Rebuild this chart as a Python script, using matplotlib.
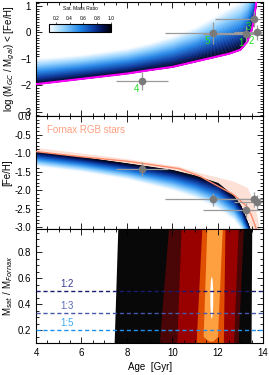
import numpy as np
import matplotlib
matplotlib.use("Agg")
import matplotlib.pyplot as plt
from matplotlib.colors import LinearSegmentedColormap, Normalize
from matplotlib.ticker import MultipleLocator
from matplotlib.patches import Ellipse
import matplotlib.colorbar as mcolorbar

plt.rcParams["font.family"] = ["Liberation Sans", "DejaVu Sans"]

# ---- top panel: GC-to-galaxy mass limit band
age_top = [4, 6, 8, 9, 10, 11, 12, 12.5, 13, 13.3, 13.5, 13.6, 13.7, 13.8]
lim_low = [-1.95, -1.75, -1.55, -1.42, -1.3, -1.1, -0.9, -0.8, -0.65, -0.35, 0.1, 0.5, 1.15, 1.6]
lim_up = [-0.97, -0.82, -0.58, -0.38, -0.12, 0.22, 0.7, 0.95, 1.2, 1.5, 1.8, 2.0, 2.2, 2.4]

# ---- middle panel: age-metallicity band + Fornax RGB stars
age_mid = [4, 6, 8, 10, 11, 12, 12.7, 13.0, 13.3, 13.45, 13.6]
feh_dark = [-0.95, -1.1, -1.27, -1.45, -1.6, -1.8, -2.15, -2.4, -2.85, -3.1, -3.5]
feh_light = [-1.35, -1.5, -1.7, -2.0, -2.2, -2.5, -2.8, -3.05, -3.4, -3.7, -4.0]

age_rgb = [4, 6, 8, 10.3, 11.2, 12.7, 13.3, 13.5, 13.7, 13.85]
rgb_up = [-0.85, -1.0, -1.15, -1.36, -1.53, -1.76, -1.93, -2.2, -2.6, -3.1]
rgb_mid = [-0.96, -1.1, -1.22, -1.42, -1.62, -2.12, -2.45, -2.7, -3.05, -3.3]
rgb_low = [-1.05, -1.2, -1.35, -1.55, -1.72, -2.25, -2.8, -3.1, -3.3, -3.4]

# ---- Fornax globular clusters
gc_id = ["1", "2", "3", "4", "5"]
gc_age = [13.25, 13.72, 13.6, 8.65, 11.8]
gc_age_err = [1.9, 1.0, 1.7, 1.15, 2.1]
gc_logm = [-0.07, 0.0, 0.51, -1.83, -0.03]
gc_logm_err = [0.3, 0.3, 0.3, 0.35, 0.42]
gc_feh = [-2.54, -2.33, -2.25, -1.43, -2.25]
gc_feh_err = [0.2, 0.2, 0.2, 0.2, 0.18]

# ---- bottom panel: likelihood contours (edges at ratio_edges)
ratio_edges = [0.1, 0.98]
cont_colors = ["#080808", "#4a0606", "#990000", "#e05000"]
cont_left = [[7.44, 7.6], [9.43, 9.83], [10.2, 10.39], [11.05, 11.3]]
cont_right = [[13.47, 13.5], [12.9, 13.13], [12.7, 12.9], [12.25, 12.32]]
core_ratio = [0.115, 0.15, 0.98]
core_left = [11.62, 11.36, 11.52]
core_right = [11.78, 11.99, 12.2]
peak_age, peak_ratio, peak_w, peak_h = 11.74, 0.45, 0.13, 0.32

ratio_lines = [0.5, 1 / 3, 0.2]
ratio_names = ["1:2", "1:3", "1:5"]
ratio_colors = ["#1a1a70", "#4858a8", "#2090f0"]
ratio_text_colors = ["#3a3a90", "#5a6ab8", "#40a8f0"]

cmap = LinearSegmentedColormap.from_list(
    "sat", [(0.0, "#ffffff"), (0.25, "#8ccfff"), (0.5, "#2285e8"),
            (0.72, "#0a3aa0"), (0.87, "#001050"), (1.0, "#000000")])
norm = Normalize(0.1, 1.0)


def gradient_band(ax, x, dark, light, n=40):
    dark = np.asarray(dark)
    light = np.asarray(light)
    for i in range(n):
        f0, f1 = i / n, (i + 1) / n
        y0 = dark + f0 * (light - dark)
        y1 = dark + f1 * (light - dark)
        ax.fill_between(x, y0, y1, color=cmap(1 - (f0 + f1) / 2), lw=0.3,
                        edgecolor=cmap(1 - (f0 + f1) / 2), zorder=2)


def style(ax):
    ax.set_xlim(4, 14)
    ax.xaxis.set_major_locator(MultipleLocator(2))
    ax.xaxis.set_minor_locator(MultipleLocator(0.5))
    ax.tick_params(which="both", direction="in", top=True, right=True,
                   labelsize=7, width=0.6)
    ax.tick_params(which="major", length=4)
    ax.tick_params(which="minor", length=2)
    for s in ax.spines.values():
        s.set_linewidth(0.8)


fig = plt.figure(figsize=(2.69, 3.75), dpi=100)
L, W = 0.134, 0.844
ax1 = fig.add_axes([L, 0.6907, W, 0.304])
ax2 = fig.add_axes([L, 0.3893, W, 0.3013])
ax3 = fig.add_axes([L, 0.0853, W, 0.304])

# top panel
gradient_band(ax1, age_top, lim_low, lim_up)
ax1.plot(age_top, lim_low, color="#ff00ff", lw=1.5, zorder=3)
ax1.errorbar(gc_age, gc_logm, xerr=gc_age_err, yerr=gc_logm_err, fmt="o",
             color="#7a7a7a", ecolor="#9a9a9a", elinewidth=0.9, ms=4.5,
             capsize=0, zorder=4)
for i, name in enumerate(gc_id):
    ax1.text(gc_age[i] - 0.12, gc_logm[i] - 0.12, name, color="#22dd22",
             fontsize=7, ha="right", va="top", zorder=5)
ax1.set_ylim(-3.15, 1.15)
ax1.yaxis.set_major_locator(MultipleLocator(1))
ax1.yaxis.set_minor_locator(MultipleLocator(0.1))
ax1.set_ylabel("log (M$_{GC}$ / M$_{gal}$) < [Fe/H]", fontsize=7, labelpad=2)
style(ax1)
ax1.tick_params(labelbottom=False)

cax = fig.add_axes([49 / 269, 1 - 32 / 375, 62 / 269, 8 / 375])
cb = mcolorbar.ColorbarBase(cax, cmap=cmap, norm=norm, orientation="horizontal",
                            ticks=[0.2, 0.4, 0.6, 0.8, 1.0])
cb.outline.set_linewidth(0.8)
cax.xaxis.set_ticks_position("top")
cax.tick_params(labelsize=3.5, length=1.5, width=0.4, pad=1)
cax.set_title("Sat. Mass Ratio", fontsize=3.5, pad=4)

# middle panel
ax2.fill_between(age_rgb, rgb_low, rgb_up, color="#fde0d6", lw=0, zorder=1)
gradient_band(ax2, age_mid, feh_dark, feh_light)
ax2.plot(age_rgb, rgb_mid, color="#ff8a6a", lw=1.0, zorder=3)
ax2.errorbar(gc_age, gc_feh, xerr=gc_age_err, yerr=gc_feh_err, fmt="o",
             color="#7a7a7a", ecolor="#9a9a9a", elinewidth=0.9, ms=4.5,
             capsize=0, zorder=4)
ax2.text(4.5, -0.38, "Fornax RGB stars", color="#ffa080", fontsize=7,
         va="center", ha="left")
ax2.set_ylim(-3.05, 0.0)
ax2.yaxis.set_major_locator(MultipleLocator(0.5))
ax2.yaxis.set_minor_locator(MultipleLocator(0.1))
ax2.yaxis.set_major_formatter(matplotlib.ticker.FormatStrFormatter("%.1f"))
ax2.set_ylabel("[Fe/H]", fontsize=7, labelpad=2)
style(ax2)
ax2.tick_params(labelbottom=False)

# bottom panel
for c, lft, rgt in zip(cont_colors, cont_left, cont_right):
    ax3.fill_betweenx(ratio_edges, lft, rgt, color=c, lw=0, zorder=1)
ax3.fill_betweenx(core_ratio, core_left, core_right, color="#ffa040", lw=0, zorder=1)
ax3.add_patch(Ellipse((peak_age, peak_ratio), peak_w, peak_h, color="white",
                      lw=0, zorder=2))
for r, name, c, tc in zip(ratio_lines, ratio_names, ratio_colors, ratio_text_colors):
    ax3.axhline(r, color=c, ls=(0, (3, 2)), lw=1.0, zorder=3)
    ax3.text(5.05, r + 0.015, name, color=tc, fontsize=7, ha="left", va="bottom")
ax3.set_ylim(0.1, 0.98)
ax3.yaxis.set_major_locator(MultipleLocator(0.2))
ax3.yaxis.set_minor_locator(MultipleLocator(0.05))
ax3.set_ylabel("M$_{sat}$ / M$_{Fornax}$", fontsize=7, labelpad=2)
ax3.set_xlabel("Age  [Gyr]", fontsize=7, labelpad=3)
style(ax3)

fig.savefig("out.png", dpi=100)
